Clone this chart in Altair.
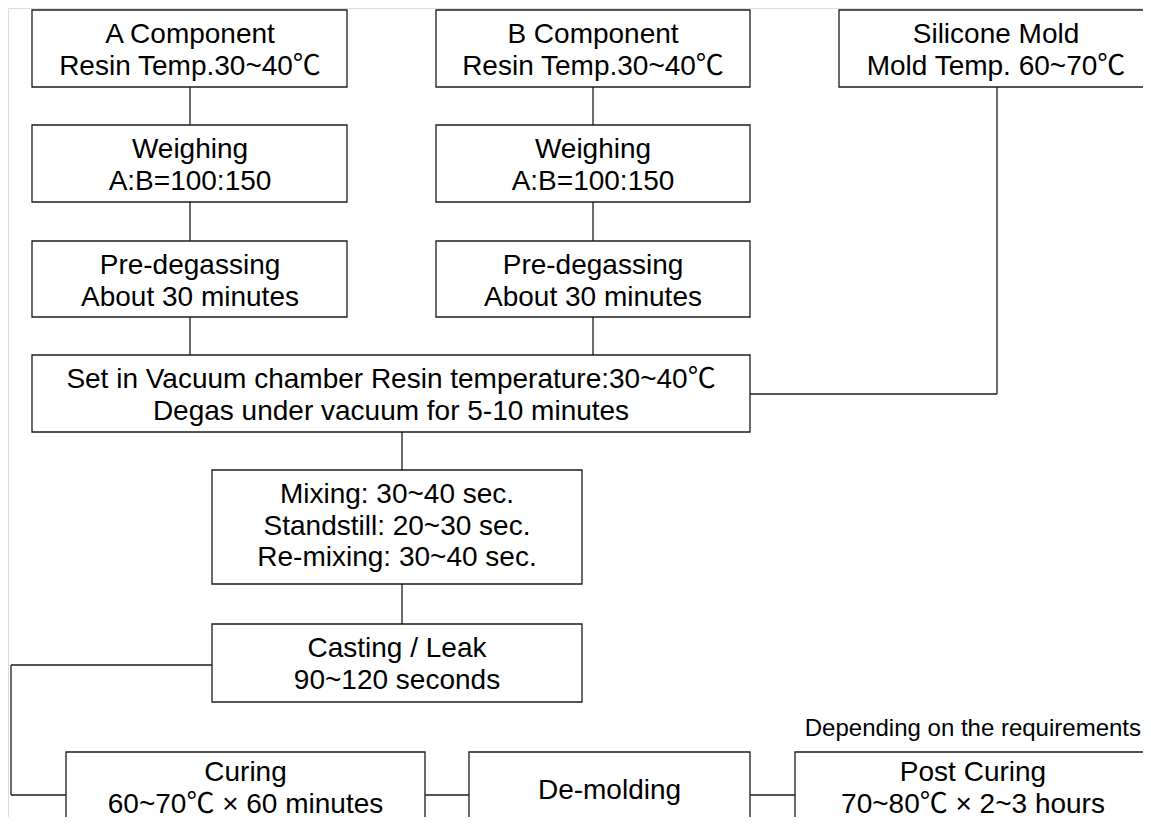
import altair as alt
import pandas as pd

# ---- box contents ----
box_text = [
    "A Component\nResin Temp.30~40℃",
    "B Component\nResin Temp.30~40℃",
    "Silicone Mold\nMold Temp. 60~70℃",
    "Weighing\nA:B=100:150",
    "Weighing\nA:B=100:150",
    "Pre-degassing\nAbout 30 minutes",
    "Pre-degassing\nAbout 30 minutes",
    "Set in Vacuum chamber Resin temperature:30~40℃\nDegas under vacuum for 5-10 minutes",
    "Mixing: 30~40 sec.\nStandstill: 20~30 sec.\nRe-mixing: 30~40 sec.",
    "Casting / Leak\n90~120 seconds",
    "Curing\n60~70℃ × 60 minutes",
    "De-molding",
    "Post Curing\n70~80℃ × 2~3 hours",
]
# ---- box layout (page pixels) ----
box_left = [32, 436, 839, 32, 436, 32, 436, 32, 212, 212, 66, 469, 795]
box_right = [347, 750, 1160, 347, 750, 347, 750, 750, 582, 582, 425, 750, 1160]
box_top = [10, 10, 10, 125, 125, 241, 241, 355, 470, 624, 752, 752, 752]
box_bottom = [87, 87, 87, 202, 202, 317, 317, 432, 584, 702, 835, 835, 835]
text_x = [190, 593, 996, 190, 593, 190, 593, 391, 397, 397, 245.5, 609.5, 973]
text_y = [43, 43, 43, 158, 158, 274, 274, 388, 503, 657, 781, 799, 781]  # first baseline

# ---- connector segments ----
link_x1 = [190, 190, 190, 593, 593, 593, 997, 750, 402, 402, 11, 11, 11, 425, 750]
link_x2 = [190, 190, 190, 593, 593, 593, 997, 997, 402, 402, 212, 11, 66, 469, 795]
link_y1 = [87, 202, 317, 87, 202, 317, 87, 394, 432, 584, 665, 665, 795, 795, 795]
link_y2 = [125, 241, 355, 125, 241, 355, 394, 394, 470, 624, 665, 795, 795, 795, 795]

note_text = ["Depending on the requirements"]
note_x = [1141]
note_y = [736]

boxes = pd.DataFrame({"label": box_text, "x": box_left, "x2": box_right,
                      "y": box_top, "y2": box_bottom, "tx": text_x, "ty": text_y})
links = pd.DataFrame({"x": link_x1, "x2": link_x2, "y": link_y1, "y2": link_y2})
notes = pd.DataFrame({"label": note_text, "x": note_x, "y": note_y})

xs = alt.Scale(domain=[8, 1143], nice=False, zero=False)
ys = alt.Scale(domain=[8, 817], nice=False, zero=False, reverse=True)
FONT = "Liberation Sans, Arial, Noto Sans CJK SC"
INK = "#1c1c1c"

rules = alt.Chart(links).mark_rule(color=INK, strokeWidth=1.3, clip=True).encode(
    x=alt.X("x:Q", scale=xs, axis=None),
    x2="x2:Q",
    y=alt.Y("y:Q", scale=ys, axis=None),
    y2="y2:Q",
)

rects = alt.Chart(boxes).mark_rect(fill="white", stroke=INK, strokeWidth=1.3, clip=True).encode(
    x=alt.X("x:Q", scale=xs, axis=None),
    x2="x2:Q",
    y=alt.Y("y:Q", scale=ys, axis=None),
    y2="y2:Q",
)

texts = alt.Chart(boxes).mark_text(
    font=FONT, fontSize=28, color="black", align="center", baseline="alphabetic",
    lineBreak="\n", lineHeight=31.5, clip=True,
).encode(
    x=alt.X("tx:Q", scale=xs, axis=None),
    y=alt.Y("ty:Q", scale=ys, axis=None),
    text="label:N",
)

note = alt.Chart(notes).mark_text(
    font=FONT, fontSize=24, color="black", align="right", baseline="alphabetic",
).encode(
    x=alt.X("x:Q", scale=xs, axis=None),
    y=alt.Y("y:Q", scale=ys, axis=None),
    text="label:N",
)

chart = alt.layer(rules, rects, texts, note).properties(
    width=1135, height=809, padding=0,
    autosize=alt.AutoSizeParams(type="none"),
).configure_view(
    strokeWidth=0, stroke="transparent", fill="white"
).configure_axis(
    domain=False, grid=False, ticks=False, labels=False
).configure(background="white")

chart.save("out.html", embed_options={"renderer": "svg", "actions": False})
